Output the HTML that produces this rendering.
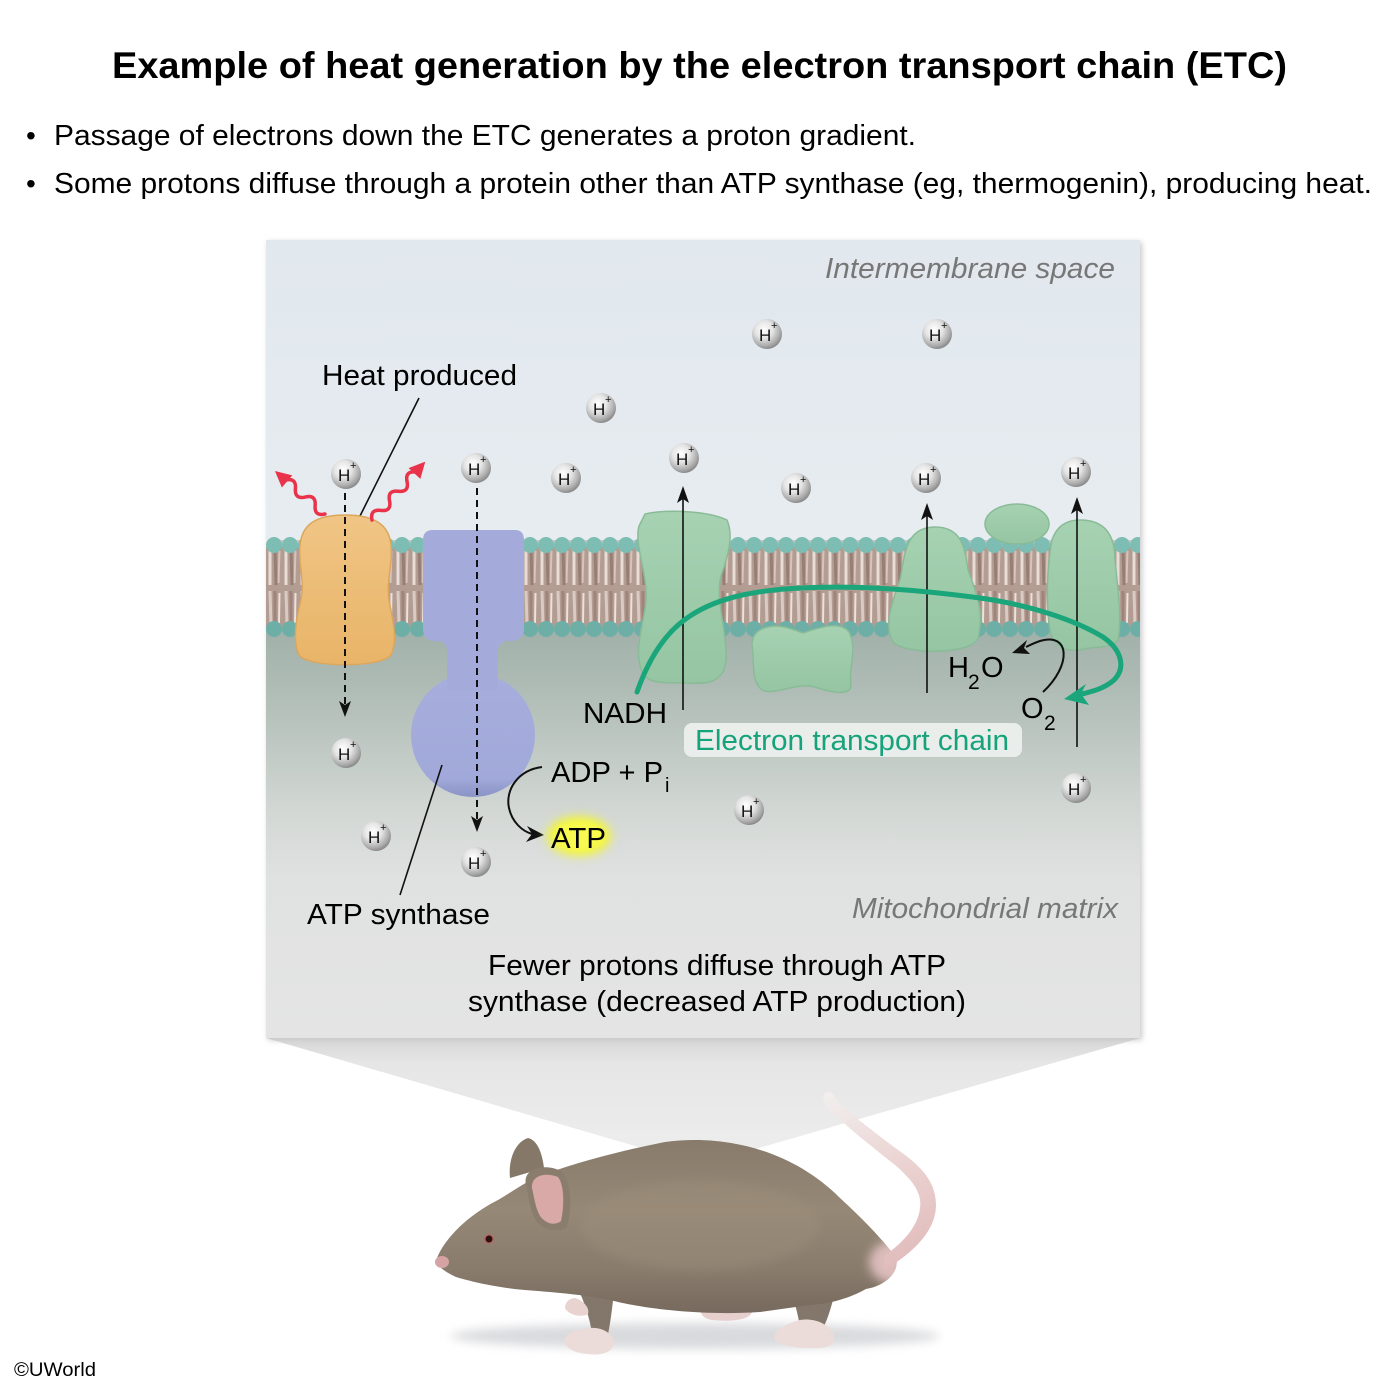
<!DOCTYPE html>
<html>
<head>
<meta charset="utf-8">
<style>
  html,body{margin:0;padding:0;background:#ffffff;}
  svg{display:block;}
  text{font-family:"Liberation Sans", Arial, sans-serif;}
</style>
</head>
<body>
<svg width="1400" height="1388" viewBox="0 0 1400 1388" xmlns="http://www.w3.org/2000/svg">
  <defs>
    <linearGradient id="ims" x1="0" y1="0" x2="0" y2="1">
      <stop offset="0" stop-color="#e1e8ee"/>
      <stop offset="1" stop-color="#e7ecf0"/>
    </linearGradient>
    <linearGradient id="mat" x1="0" y1="625" x2="0" y2="1038" gradientUnits="userSpaceOnUse">
      <stop offset="0" stop-color="#9fb0a8"/>
      <stop offset="0.18" stop-color="#b2beb8"/>
      <stop offset="0.45" stop-color="#d2d7d4"/>
      <stop offset="0.62" stop-color="#e0e2e1"/>
      <stop offset="1" stop-color="#e4e4e4"/>
    </linearGradient>
    <linearGradient id="funnel" x1="0" y1="1038" x2="0" y2="1165" gradientUnits="userSpaceOnUse">
      <stop offset="0" stop-color="#d6d6d6"/>
      <stop offset="0.2" stop-color="#e6e6e6"/>
      <stop offset="1" stop-color="#eeeeee"/>
    </linearGradient>
    <pattern id="lip" x="266" y="535" width="16" height="104" patternUnits="userSpaceOnUse">
      <rect y="12" width="16" height="80" fill="#b39c92"/>
      <line x1="4" y1="14" x2="4" y2="50" stroke="#e8ddd6" stroke-width="3"/>
      <line x1="9" y1="14" x2="10" y2="50" stroke="#977e74" stroke-width="3"/>
      <line x1="13.5" y1="16" x2="12.5" y2="48" stroke="#d6c5bc" stroke-width="2"/>
      <line x1="4" y1="56" x2="5" y2="90" stroke="#d9cbc3" stroke-width="3"/>
      <line x1="9" y1="56" x2="9" y2="90" stroke="#a08479" stroke-width="3"/>
      <line x1="13.5" y1="58" x2="13" y2="88" stroke="#ebe2dc" stroke-width="2"/>
      <circle cx="8" cy="10" r="8" fill="#7dbdb3"/>
      <circle cx="8" cy="94" r="8" fill="#6dafa6"/>
    </pattern>
    <radialGradient id="hg" cx="0.4" cy="0.35" r="0.65">
      <stop offset="0" stop-color="#ffffff"/>
      <stop offset="0.45" stop-color="#e4e4e4"/>
      <stop offset="0.85" stop-color="#a9a9a9"/>
      <stop offset="1" stop-color="#8c8c8c"/>
    </radialGradient>
    <linearGradient id="org" x1="0" y1="0" x2="0" y2="1">
      <stop offset="0" stop-color="#f0c585"/>
      <stop offset="1" stop-color="#e8b468"/>
    </linearGradient>
    <linearGradient id="blu" x1="0" y1="0" x2="0" y2="1">
      <stop offset="0" stop-color="#a7aedd"/>
      <stop offset="0.85" stop-color="#a1a9da"/>
      <stop offset="1" stop-color="#8a93c6"/>
    </linearGradient>
    <linearGradient id="grn" x1="0" y1="0" x2="0" y2="1">
      <stop offset="0" stop-color="#a6d2b2"/>
      <stop offset="1" stop-color="#95c5a3"/>
    </linearGradient>
    <filter id="blur5" x="-50%" y="-50%" width="200%" height="200%">
      <feGaussianBlur stdDeviation="5"/>
    </filter>
    <filter id="blur3" x="-50%" y="-50%" width="200%" height="200%">
      <feGaussianBlur stdDeviation="3"/>
    </filter>
    <filter id="shadow" x="-5%" y="-5%" width="110%" height="110%">
      <feGaussianBlur stdDeviation="3"/>
    </filter>
    <linearGradient id="body" x1="0" y1="1140" x2="0" y2="1315" gradientUnits="userSpaceOnUse">
      <stop offset="0" stop-color="#887b6b"/>
      <stop offset="0.4" stop-color="#968876"/>
      <stop offset="0.75" stop-color="#887b6c"/>
      <stop offset="1" stop-color="#76695d"/>
    </linearGradient>
    <linearGradient id="tail" x1="830" y1="1095" x2="905" y2="1262" gradientUnits="userSpaceOnUse">
      <stop offset="0" stop-color="#f1eeed"/>
      <stop offset="0.5" stop-color="#ebd3d2"/>
      <stop offset="1" stop-color="#e1bcbc"/>
    </linearGradient>
    <clipPath id="bodyclip">
      <path d="M437 1258 C445 1238 468 1215 498 1200 C515 1190 528 1180 545 1174 C585 1160 625 1150 665 1142 C725 1134 792 1150 840 1198 C866 1222 885 1242 896 1258 C900 1272 885 1286 866 1289 C850 1298 830 1304 810 1305 L760 1312 C700 1316 640 1308 610 1300 C580 1294 550 1292 525 1290 C500 1288 472 1282 456 1277 C445 1272 436 1266 437 1258 Z"/>
    </clipPath>
  </defs>

  <!-- Title & bullets -->
  <text x="112" y="78" font-size="37" font-weight="bold" fill="#000" textLength="1175" lengthAdjust="spacingAndGlyphs">Example of heat generation by the electron transport chain (ETC)</text>
  <text x="26" y="145" font-size="28" fill="#000">•</text>
  <text x="54" y="145" font-size="29" fill="#000" textLength="862" lengthAdjust="spacingAndGlyphs">Passage of electrons down the ETC generates a proton gradient.</text>
  <text x="26" y="193" font-size="28" fill="#000">•</text>
  <text x="54" y="193" font-size="29" fill="#000" textLength="1318" lengthAdjust="spacingAndGlyphs">Some protons diffuse through a protein other than ATP synthase (eg, thermogenin), producing heat.</text>

  <!-- Funnel -->
  <polygon points="266,1038 1140,1038 700,1165" fill="url(#funnel)"/>

  <!-- Panel shadow -->
  <rect x="268" y="242" width="874" height="798" fill="#c8c8c8" filter="url(#shadow)"/>
  <!-- Panel -->
  <rect x="266" y="240" width="874" height="300" fill="url(#ims)"/>
  <rect x="266" y="625" width="874" height="413" fill="url(#mat)"/>
  <rect x="266" y="535" width="874" height="104" fill="url(#lip)"/>

  <!-- Labels in panel -->
  <text x="825" y="278" font-size="29" font-style="italic" fill="#777" textLength="290" lengthAdjust="spacingAndGlyphs">Intermembrane space</text>
  <text x="852" y="918" font-size="29" font-style="italic" fill="#777" textLength="266" lengthAdjust="spacingAndGlyphs">Mitochondrial matrix</text>
  <text x="322" y="385" font-size="29" fill="#000" textLength="195" lengthAdjust="spacingAndGlyphs">Heat produced</text>
  <text x="307" y="924" font-size="29" fill="#000" textLength="183" lengthAdjust="spacingAndGlyphs">ATP synthase</text>
  <text x="488" y="975" font-size="29" fill="#000" textLength="458" lengthAdjust="spacingAndGlyphs">Fewer protons diffuse through ATP</text>
  <text x="468" y="1011" font-size="29" fill="#000" textLength="498" lengthAdjust="spacingAndGlyphs">synthase (decreased ATP production)</text>

  <!-- Leader lines -->
  <line x1="419" y1="398" x2="357" y2="522" stroke="#111" stroke-width="1.6"/>

  <!-- Uncoupling protein (orange) -->
  <path d="M345 515 C375 515 389 525 391 545 C393 565 386 580 389 600 C393 622 398 640 391 655 C381 668 309 668 299 655 C292 640 297 615 301 600 C305 580 298 565 300 545 C302 525 315 515 345 515 Z" fill="url(#org)" stroke="#dca75c" stroke-width="1.5"/>

  <!-- ATP synthase (blue) -->
  <circle cx="473" cy="735" r="62" fill="url(#blu)"/>
  <path d="M433 530 L515 530 Q524 530 524 540 L524 628 Q524 640 512 641 L505 641 Q498 643 498 652 L498 690 L447 690 L447 652 Q447 643 440 641 L433 641 Q423 640 423 628 L423 540 Q423 530 433 530 Z" fill="#a4abdb"/>
  <line x1="442" y1="765" x2="400" y2="895" stroke="#111" stroke-width="1.6"/>

  <!-- ETC proteins (green) -->
  <path d="M645 514 C668 509 708 511 727 520 C734 536 728 556 721 576 C715 600 727 630 726 660 C724 684 705 684 688 683 C668 682 650 686 642 672 C633 650 644 625 646 600 C648 575 634 545 639 526 Z" fill="url(#grn)" stroke="#8abb97" stroke-width="1.5"/>
  <path d="M760 630 C775 622 790 628 803 633 C818 628 840 620 849 632 C858 650 848 668 851 685 C851 697 830 692 815 687 C795 682 775 696 762 690 C750 680 755 660 752 645 C752 638 755 633 760 630 Z" fill="url(#grn)" stroke="#8abb97" stroke-width="1.5"/>
  <path d="M935 527 C960 527 965 545 968 570 C975 590 985 610 978 638 C972 655 905 655 893 642 C883 625 893 600 900 580 C905 555 905 527 935 527 Z" fill="url(#grn)" stroke="#8abb97" stroke-width="1.5"/>
  <ellipse cx="1017" cy="524" rx="32" ry="20" fill="url(#grn)" stroke="#8abb97" stroke-width="1.5"/>
  <path d="M1080 520 C1105 520 1115 535 1115 560 C1118 590 1122 620 1118 640 C1110 650 1095 645 1080 650 C1065 652 1052 645 1050 630 C1045 600 1048 560 1052 540 C1057 525 1068 520 1080 520 Z" fill="url(#grn)" stroke="#8abb97" stroke-width="1.5"/>

  <!-- Heat wavy arrows -->
  <g transform="translate(325,514) rotate(-139.3)" stroke="#e8334a" stroke-width="3.5" fill="none" stroke-linecap="round">
    <path d="M0 0 q6.5 -9 13 0 t13 0 t13 0 t13 0"/>
    <polygon points="50,-8 66,0 50,8" fill="#e8334a" stroke="none"/>
  </g>
  <g transform="translate(372,520) rotate(-47.6)" stroke="#e8334a" stroke-width="3.5" fill="none" stroke-linecap="round">
    <path d="M0 0 q6.5 -9 13 0 t13 0 t13 0 t13 0 t13 0"/>
    <polygon points="63,-8 79,0 63,8" fill="#e8334a" stroke="none"/>
  </g>

  <!-- Dashed proton paths -->
  <line x1="345" y1="493" x2="345" y2="704" stroke="#111" stroke-width="2" stroke-dasharray="7 5"/>
  <polygon points="345,717 339,701 345,705 351,701" fill="#111"/>
  <line x1="477" y1="488" x2="477" y2="820" stroke="#111" stroke-width="2" stroke-dasharray="7 5"/>
  <polygon points="477,832 471,816 477,820 483,816" fill="#111"/>

  <!-- Up arrows through ETC -->
  <line x1="683" y1="496" x2="683" y2="710" stroke="#111" stroke-width="1.6"/>
  <polygon points="683,486 677,503 683,499 689,503" fill="#111"/>
  <line x1="927" y1="513" x2="927" y2="693" stroke="#111" stroke-width="1.6"/>
  <polygon points="927,503 921,520 927,516 933,520" fill="#111"/>
  <line x1="1077" y1="507" x2="1077" y2="747" stroke="#111" stroke-width="1.6"/>
  <polygon points="1077,497 1071,514 1077,510 1083,514" fill="#111"/>

  <!-- Green electron path -->
  <path d="M637 692 C650 655 668 630 690 616 C720 596 760 590 800 588 C860 585 920 590 980 598 C1030 605 1075 620 1103 637 C1122 650 1126 668 1114 680 C1104 689 1090 692 1078 695" fill="none" stroke="#1aa57a" stroke-width="5" stroke-linecap="round"/>
  <polygon points="1064,699 1086,684 1081,694 1089,705" fill="#1aa57a"/>

  <!-- H2O / O2 arrow -->
  <path d="M1043 692 C1072 665 1070 632 1040 641 C1034 643 1030 645 1026 647" fill="none" stroke="#111" stroke-width="2"/>
  <polygon points="1012,653 1027,640 1024,648 1030,654" fill="#111"/>
  <text x="948" y="677" font-size="29" fill="#000">H</text>
  <text x="968" y="689" font-size="21" fill="#000">2</text>
  <text x="981" y="677" font-size="29" fill="#000">O</text>
  <text x="1021" y="718" font-size="29" fill="#000">O</text>
  <text x="1044" y="730" font-size="21" fill="#000">2</text>

  <!-- NADH and ETC label -->
  <text x="583" y="723" font-size="29" fill="#000" textLength="84" lengthAdjust="spacingAndGlyphs">NADH</text>
  <rect x="684" y="723" width="338" height="34" rx="8" fill="#edf1ef" opacity="0.92"/>
  <text x="695" y="750" font-size="29" fill="#16a27a" textLength="314" lengthAdjust="spacingAndGlyphs">Electron transport chain</text>

  <!-- ADP -> ATP -->
  <path d="M542 767 C518 770 505 790 509 808 C512 822 522 831 532 834" fill="none" stroke="#111" stroke-width="2"/>
  <polygon points="544,835 527,826 532,834 526,842" fill="#111"/>
  <text x="551" y="782" font-size="29" fill="#000" textLength="112" lengthAdjust="spacingAndGlyphs">ADP + P</text>
  <text x="665" y="792" font-size="20" fill="#000">i</text>
  <ellipse cx="579" cy="836" rx="32" ry="20" fill="#f3f53a" filter="url(#blur5)"/>
  <ellipse cx="579" cy="836" rx="24" ry="14" fill="#f8fa50" filter="url(#blur3)"/>
  <text x="551" y="848" font-size="29" fill="#000" textLength="55" lengthAdjust="spacingAndGlyphs">ATP</text>

  <!-- Protons -->
  <g font-size="17" fill="#111">
    <circle cx="767" cy="334" r="15" fill="url(#hg)"/><text x="759" y="341">H</text><text x="771" y="329" font-size="11">+</text>
    <circle cx="937" cy="334" r="15" fill="url(#hg)"/><text x="929" y="341">H</text><text x="941" y="329" font-size="11">+</text>
    <circle cx="601" cy="408" r="15" fill="url(#hg)"/><text x="593" y="415">H</text><text x="605" y="403" font-size="11">+</text>
    <circle cx="346" cy="474" r="15" fill="url(#hg)"/><text x="338" y="481">H</text><text x="350" y="469" font-size="11">+</text>
    <circle cx="476" cy="468" r="15" fill="url(#hg)"/><text x="468" y="475">H</text><text x="480" y="463" font-size="11">+</text>
    <circle cx="566" cy="478" r="15" fill="url(#hg)"/><text x="558" y="485">H</text><text x="570" y="473" font-size="11">+</text>
    <circle cx="684" cy="458" r="15" fill="url(#hg)"/><text x="676" y="465">H</text><text x="688" y="453" font-size="11">+</text>
    <circle cx="796" cy="488" r="15" fill="url(#hg)"/><text x="788" y="495">H</text><text x="800" y="483" font-size="11">+</text>
    <circle cx="926" cy="478" r="15" fill="url(#hg)"/><text x="918" y="485">H</text><text x="930" y="473" font-size="11">+</text>
    <circle cx="1076" cy="472" r="15" fill="url(#hg)"/><text x="1068" y="479">H</text><text x="1080" y="467" font-size="11">+</text>
    <circle cx="346" cy="753" r="15" fill="url(#hg)"/><text x="338" y="760">H</text><text x="350" y="748" font-size="11">+</text>
    <circle cx="376" cy="836" r="15" fill="url(#hg)"/><text x="368" y="843">H</text><text x="380" y="831" font-size="11">+</text>
    <circle cx="476" cy="862" r="15" fill="url(#hg)"/><text x="468" y="869">H</text><text x="480" y="857" font-size="11">+</text>
    <circle cx="749" cy="810" r="15" fill="url(#hg)"/><text x="741" y="817">H</text><text x="753" y="805" font-size="11">+</text>
    <circle cx="1076" cy="788" r="15" fill="url(#hg)"/><text x="1068" y="795">H</text><text x="1080" y="783" font-size="11">+</text>
  </g>

  <!-- Mouse -->
  <ellipse cx="695" cy="1336" rx="245" ry="13" fill="#d9dadd" filter="url(#blur5)"/>
  <!-- hind leg + foot -->
  <path d="M790 1285 L836 1288 C832 1305 828 1318 824 1326 L800 1326 C798 1315 794 1300 790 1285 Z" fill="#83766a"/>
  <path d="M800 1320 C812 1318 826 1322 832 1332 C838 1342 830 1349 816 1348 C798 1349 780 1346 775 1339 C772 1331 788 1323 800 1320 Z" fill="#ecdcd9"/>
  <!-- front leg + foot -->
  <path d="M578 1288 L614 1292 C612 1310 610 1325 608 1334 L592 1334 C590 1318 584 1302 578 1288 Z" fill="#83766a"/>
  <path d="M590 1328 C602 1327 612 1333 614 1342 C614 1352 602 1356 588 1354 C572 1353 562 1346 565 1338 C570 1331 580 1329 590 1328 Z" fill="#ecdcd9"/>
  <path d="M575 1298 C583 1300 590 1308 588 1314 C582 1318 568 1315 565 1308 C565 1302 570 1298 575 1298 Z" fill="#e9d3d0"/>
  <path d="M705 1305 C720 1306 745 1306 752 1312 C750 1320 730 1322 712 1320 C700 1318 698 1310 705 1305 Z" fill="#e6cfcc"/>
  <!-- back ear -->
  <path d="M510 1178 C508 1160 515 1142 528 1138 C537 1140 542 1152 544 1168 Z" fill="#857868"/>
  <!-- body -->
  <path d="M437 1258 C445 1238 468 1215 498 1200 C515 1190 528 1180 545 1174 C585 1160 625 1150 665 1142 C725 1134 792 1150 840 1198 C866 1222 885 1242 896 1258 C900 1272 885 1286 866 1289 C850 1298 830 1304 810 1305 L760 1312 C700 1316 640 1308 610 1300 C580 1294 550 1292 525 1290 C500 1288 472 1282 456 1277 C445 1272 436 1266 437 1258 Z" fill="url(#body)"/>
  <!-- body highlight -->
  <ellipse cx="700" cy="1225" rx="120" ry="45" fill="#9e8f7c" opacity="0.45" filter="url(#blur5)"/>
  <!-- pink blush at tail base (clipped to body) -->
  <g clip-path="url(#bodyclip)">
    <ellipse cx="895" cy="1262" rx="26" ry="22" fill="#dcbcbb" filter="url(#blur5)"/>
  </g>
  <!-- tail -->
  <path d="M884 1270 C905 1258 936 1235 936 1205 C936 1185 925 1170 905 1155 C880 1137 856 1118 840 1104 C834 1098 834 1092 829 1092 C822 1092 822 1100 826 1105 C840 1122 870 1145 895 1165 C915 1182 922 1195 920 1208 C918 1228 900 1245 884 1256 Z" fill="url(#tail)"/>
  <!-- front ear -->
  <path d="M526 1185 C522 1168 545 1163 561 1171 C572 1180 572 1210 567 1227 C560 1233 545 1231 537 1222 C529 1210 529 1195 526 1185 Z" fill="#8a7d6e"/>
  <path d="M532 1188 C531 1175 546 1172 558 1177 C565 1186 564 1208 561 1221 C555 1226 546 1224 540 1216 C535 1207 534 1196 532 1188 Z" fill="#d8a9a6"/>
  <!-- nose, eye -->
  <ellipse cx="442" cy="1262" rx="7" ry="6" fill="#d5a3a3"/>
  <circle cx="489" cy="1239" r="5" fill="#b26a62"/>
  <circle cx="489" cy="1239" r="3.5" fill="#2e0e0e"/>

  <!-- Copyright -->
  <text x="14" y="1376" font-size="19" fill="#000" textLength="82" lengthAdjust="spacingAndGlyphs">©UWorld</text>
</svg>
</body>
</html>
